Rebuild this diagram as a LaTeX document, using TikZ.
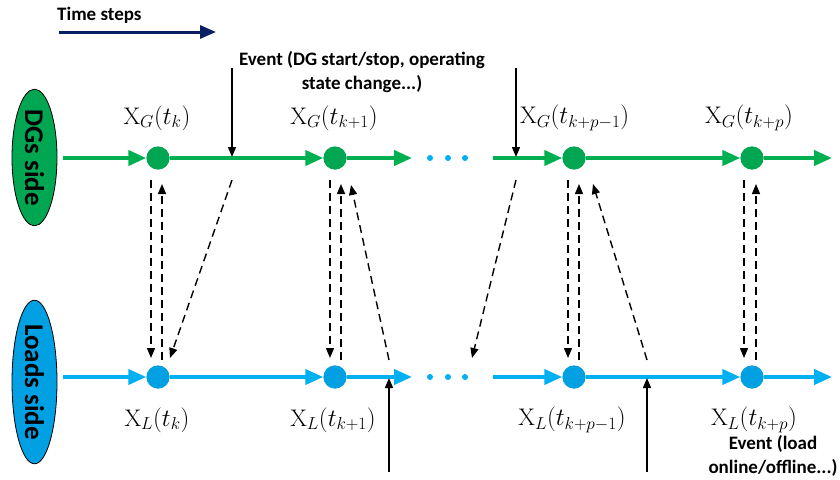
\documentclass[tikz,border=0pt]{standalone}
\usepackage{fontspec}
\newfontfamily\calfont{Carlito}
\usetikzlibrary{arrows.meta,calc,shapes.geometric}
\definecolor{dggreen}{RGB}{0,176,80}
\definecolor{dgfill}{RGB}{0,166,81}
\definecolor{ldblue}{RGB}{0,176,240}
\definecolor{ldfill}{RGB}{0,160,226}
\definecolor{navy}{RGB}{10,30,100}
\tikzset{
  gline/.style={draw=dggreen,line width=4pt,-{Triangle[length=18pt,width=15pt]}},
  bline/.style={draw=ldblue,line width=4pt,-{Triangle[length=18pt,width=15pt]}},
  gdot/.style={circle,fill=dgfill,minimum size=23pt,inner sep=0pt},
  bdot/.style={circle,fill=ldfill,minimum size=23pt,inner sep=0pt},
  smalldot/.style={circle,fill=ldblue,minimum size=6pt,inner sep=0pt},
  dsh/.style={draw=black,line width=1.4pt,dash pattern=on 8pt off 5pt,-{Triangle[length=10pt,width=8pt]}},
  evarrow/.style={draw=black,line width=1.4pt,-{Triangle[length=10pt,width=8pt]}},
  lab/.style={font=\fontsize{24}{28}\selectfont,inner sep=0pt},
  txt/.style={font=\calfont\bfseries\fontsize{19}{24}\selectfont,inner sep=0pt,align=center},
  side/.style={ellipse,draw=black,line width=0.8pt,minimum width=135pt,minimum height=45pt,inner sep=0pt,rotate=-90,font=\calfont\bfseries\fontsize{27}{30}\selectfont}
}
\begin{document}
\begin{tikzpicture}[x=1pt,y=-1pt]
\useasboundingbox (0,0) rectangle (840,479);
% time steps
\node[txt,anchor=west] (ts) at (57,15) {Time steps};
\coordinate (ta) at (59,32);
\coordinate (tb) at (216,32);
\draw[navy,line width=3pt,-{Triangle[length=16pt,width=13pt]}] (ta) -- (tb);
% side ellipses
\node[side,fill=dgfill] (dg) at (34.5,157.5) {DGs side};
\node[side,fill=ldfill] (ld) at (34.5,382) {Loads side};
% state node positions
\coordinate (gs1) at (63,158);
\coordinate (ge1) at (412,158);
\coordinate (gs2) at (493,158);
\coordinate (ge2) at (832,158);
\coordinate (bs1) at (63,377);
\coordinate (be1) at (412,377);
\coordinate (bs2) at (493,377);
\coordinate (be2) at (832,377);
\node[gdot] (g1) at (158,158) {};
\node[gdot] (g2) at (335,158) {};
\node[gdot] (g3) at (574,158) {};
\node[gdot] (g4) at (752,158) {};
\node[bdot] (l1) at (158,377) {};
\node[bdot] (l2) at (335,377) {};
\node[bdot] (l3) at (574,377) {};
\node[bdot] (l4) at (752,377) {};
% time lines
\draw[gline] (gs1) -- (g1.west);
\draw[gline] (g1.east) -- (g2.west);
\draw[gline] (g2.east) -- (ge1);
\draw[gline] (gs2) -- (g3.west);
\draw[gline] (g3.east) -- (g4.west);
\draw[gline] (g4.east) -- (ge2);
\draw[bline] (bs1) -- (l1.west);
\draw[bline] (l1.east) -- (l2.west);
\draw[bline] (l2.east) -- (be1);
\draw[bline] (bs2) -- (l3.west);
\draw[bline] (l3.east) -- (l4.west);
\draw[bline] (l4.east) -- (be2);
% redraw dots on top
\node[gdot] at (g1) {};
\node[gdot] at (g2) {};
\node[gdot] at (g3) {};
\node[gdot] at (g4) {};
\node[bdot] at (l1) {};
\node[bdot] at (l2) {};
\node[bdot] at (l3) {};
\node[bdot] at (l4) {};
% ellipsis dots
\node[smalldot] (d1) at (430,158) {};
\node[smalldot] (d2) at (448,158) {};
\node[smalldot] (d3) at (465,158) {};
\node[smalldot] (d4) at (430,377) {};
\node[smalldot] (d5) at (448,377) {};
\node[smalldot] (d6) at (465,377) {};
% labels
\node[lab] (xg1) at (157,118) {$\mathrm{X}_{G}(t_{k})$};
\node[lab] (xg2) at (334,118) {$\mathrm{X}_{G}(t_{k+1})$};
\node[lab,anchor=west] (xg3) at (520,118) {$\mathrm{X}_{G}(t_{k+p-1})$};
\node[lab] (xg4) at (749,118) {$\mathrm{X}_{G}(t_{k+p})$};
\node[lab] (xl1) at (157,420) {$\mathrm{X}_{L}(t_{k})$};
\node[lab] (xl2) at (333,420) {$\mathrm{X}_{L}(t_{k+1})$};
\node[lab] (xl3) at (572,420) {$\mathrm{X}_{L}(t_{k+p-1})$};
\node[lab] (xl4) at (754,420) {$\mathrm{X}_{L}(t_{k+p})$};
% events
\node[txt] (ev1) at (362,72) {Event (DG start/stop, operating\\state change...)};
\node[txt] (ev2) at (773,456) {Event (load\\online/offline...)};
\coordinate (e1t) at (232,68);
\coordinate (e1) at (232,157);
\coordinate (e2t) at (516,68);
\coordinate (e2) at (516,157);
\coordinate (e3b) at (389,472);
\coordinate (e3) at (389,378);
\coordinate (e4b) at (647,472);
\coordinate (e4) at (647,378);
\draw[evarrow] (e1t) -- (e1);
\draw[evarrow] (e2t) -- (e2);
\draw[evarrow] (e3b) -- (e3);
\draw[evarrow] (e4b) -- (e4);
% dashed exchanges
\draw[dsh] ($(g1)+(-7,22)$) -- ($(l1)+(-7,-19)$);
\draw[dsh] ($(l1)+(4,-17)$) -- ($(g1)+(4,26)$);
\draw[dsh] ($(e1)+(0,23)$) -- ($(l1)+(12,-19)$);
\draw[dsh] ($(g2)+(-5,22)$) -- ($(l2)+(-5,-19)$);
\draw[dsh] ($(l2)+(6,-17)$) -- ($(g2)+(6,26)$);
\draw[dsh] ($(e3)+(0,-18)$) -- ($(g2)+(16,27)$);
\draw[dsh] ($(e2)+(0,23)$) -- ($(d6)+(7,-19)$);
\draw[dsh] ($(g3)+(-6,22)$) -- ($(l3)+(-6,-19)$);
\draw[dsh] ($(l3)+(5,-17)$) -- ($(g3)+(5,26)$);
\draw[dsh] ($(e4)+(0,-18)$) -- ($(g3)+(19,26)$);
\draw[dsh] ($(g4)+(-8,22)$) -- ($(l4)+(-8,-19)$);
\draw[dsh] ($(l4)+(4,-17)$) -- ($(g4)+(4,26)$);
\end{tikzpicture}
\end{document}
